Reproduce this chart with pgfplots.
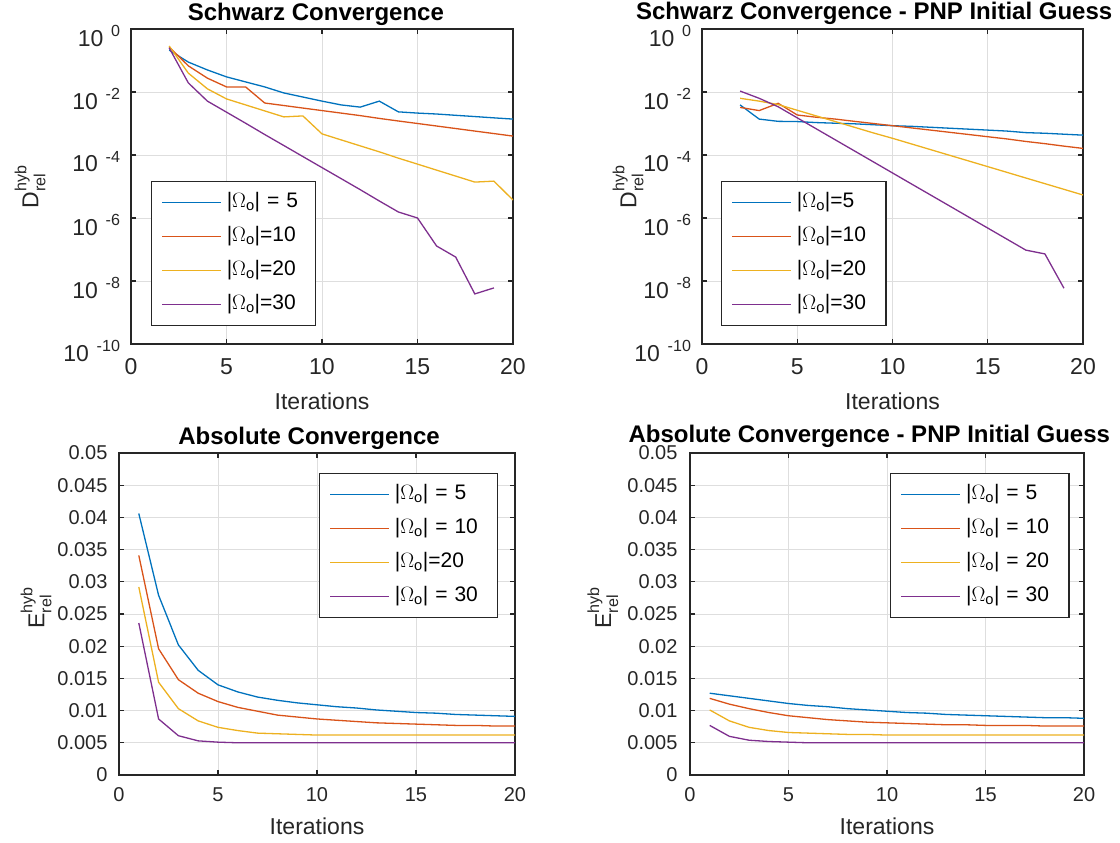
\documentclass[border=0pt]{standalone}
\usepackage{amsmath}
\usepackage{fontspec}
\setmainfont{Liberation Sans}
\usepackage{pgfplots}
\pgfplotsset{compat=1.18}
\definecolor{c1}{rgb}{0,0.447,0.741}
\definecolor{c2}{rgb}{0.85,0.325,0.098}
\definecolor{c3}{rgb}{0.929,0.694,0.125}
\definecolor{c4}{rgb}{0.494,0.184,0.556}
\definecolor{axc}{rgb}{0.15,0.15,0.15}
\newcommand{\fs}[1]{\fontsize{#1}{#1}\selectfont}
\newcommand{\Om}{$\Omega_{\text{o}}$}
\newcommand{\tp}[1]{10\,\,\textsuperscript{#1}}
\pgfplotsset{
  every axis title shift=0pt,
  every axis/.append style={
    scale only axis,
    xmin=0, xmax=20, xtick={0,5,10,15,20}, xticklabels={0,5,10,15,20},
    grid=major, major grid style={black!13, line width=0.9pt},
    axis line style={axc, line width=1.2pt},
    tick style={axc, line width=1.2pt},
    tick align=inside, major tick length=5pt,
    ticklabel style={font=\fs{20}, text=axc},
    label style={font=\fs{23}, text=axc},
    title style={font=\bfseries\fs{24}, anchor=base, at={(axis description cs:0.5,1)}, yshift=8pt},
    xlabel={Iterations},
    legend cell align=left,
    legend style={anchor=north west, draw=axc, line width=1.2pt, fill=white,
      font=\fs{21}, inner xsep=10pt, inner ysep=8pt,
      nodes={inner xsep=5pt, inner ysep=3pt, text height=15pt, text depth=5pt},
      row sep=8pt},
  },
  every axis plot/.append style={line width=1.3pt},
  legend image code/.code={\draw[#1, line width=1.3pt] (0pt,0pt) -- (59pt,0pt);},
}
\begin{document}
\begin{tikzpicture}
\useasboundingbox (0pt,0pt) rectangle (1120pt,843pt);
% ---------- top left ----------
\begin{axis}[at={(131pt,499pt)}, anchor=south west, width=382pt, height=315pt,
  ymode=log, ymin=1e-10, ymax=1,
  ytick={1e-10,1e-8,1e-6,1e-4,1e-2,1},
  yticklabels={\tp{-10},\tp{-8},\tp{-6},\tp{-4},\tp{-2},\tp{0}},
  yminorticks=false,
  ticklabel style={font=\fs{23}},
  xticklabel style={yshift=-11pt},
  yticklabel style={xshift=-7pt, yshift=-7pt},
  xlabel style={at={(axis description cs:0.5,-0.181)}, anchor=center},
  ylabel={D$^{\text{hyb}}_{\text{rel}}$},
  title={Schwarz Convergence},
  title style={at={(axis description cs:0.484,1)}},
  ylabel style={at={(axis description cs:-0.264,0.5)}, anchor=center},
  legend style={at={(axis description cs:0.052,0.517)}, nodes={text width=74pt}}]
\addplot[c1] coordinates {(2,0.214)(3,0.0891)(4,0.0501)(5,0.0302)(6,0.0209)(7,0.0145)(8,0.00933)(9,0.00692)(10,0.00513)(11,0.00389)(12,0.00331)(13,0.00513)(14,0.00234)(15,0.00214)(16,0.00200)(17,0.00182)(18,0.00166)(19,0.00151)(20,0.00138)};
\addplot[c2] coordinates {(2,0.269)(3,0.0676)(4,0.0275)(5,0.0145)(6,0.0145)(7,0.00447)(8,0.00372)(9,0.00309)(10,0.00257)(11,0.00214)(12,0.00178)(13,0.00145)(14,0.00120)(15,0.00100)(16,0.000832)(17,0.000692)(18,0.000575)(19,0.000479)(20,0.000398)};
\addplot[c3] coordinates {(2,0.288)(3,0.0398)(4,0.0126)(5,0.00603)(6,0.00389)(7,0.00251)(8,0.00162)(9,0.00174)(10,0.000468)(11,0.000302)(12,0.000195)(13,0.000126)(14,7.94e-5)(15,5.13e-5)(16,3.31e-5)(17,2.14e-5)(18,1.38e-5)(19,1.48e-5)(20,3.72e-6)};
\addplot[c4] coordinates {(2,0.251)(3,0.0195)(4,0.00513)(5,0.00229)(6,0.00102)(7,0.000447)(8,0.000200)(9,8.91e-5)(10,3.98e-5)(11,1.78e-5)(12,7.94e-6)(13,3.47e-6)(14,1.55e-6)(15,1.00e-6)(16,1.29e-7)(17,5.75e-8)(18,3.89e-9)(19,6.03e-9)};
\legend{|\Om| = 5, |\Om|=10, |\Om|=20, |\Om|=30}
\end{axis}
% ---------- top right ----------
\begin{axis}[at={(702pt,499pt)}, anchor=south west, width=381pt, height=315pt,
  ymode=log, ymin=1e-10, ymax=1,
  ytick={1e-10,1e-8,1e-6,1e-4,1e-2,1},
  yticklabels={\tp{-10},\tp{-8},\tp{-6},\tp{-4},\tp{-2},\tp{0}},
  yminorticks=false,
  ticklabel style={font=\fs{23}},
  xticklabel style={yshift=-11pt},
  yticklabel style={xshift=-7pt, yshift=-7pt},
  xlabel style={at={(axis description cs:0.5,-0.181)}, anchor=center},
  ylabel={D$^{\text{hyb}}_{\text{rel}}$},
  title={Schwarz Convergence - PNP Initial Guess},
  title style={at={(axis description cs:0.452,1)}, yshift=1pt},
  ylabel style={at={(axis description cs:-0.194,0.5)}, anchor=center},
  legend style={at={(axis description cs:0.050,0.517)}, nodes={text width=74pt}}]
\addplot[c1] coordinates {(2,0.00389)(3,0.00138)(4,0.00117)(5,0.00115)(6,0.00107)(7,0.00102)(8,0.000977)(9,0.000912)(10,0.000851)(11,0.000813)(12,0.000759)(13,0.000708)(14,0.000661)(15,0.000617)(16,0.000575)(17,0.000513)(18,0.000490)(19,0.000457)(20,0.000427)};
\addplot[c2] coordinates {(2,0.00324)(3,0.00257)(4,0.00437)(5,0.00186)(6,0.00158)(7,0.00138)(8,0.00117)(9,0.00100)(10,0.000851)(11,0.000724)(12,0.000617)(13,0.000525)(14,0.000447)(15,0.000380)(16,0.000324)(17,0.000269)(18,0.000229)(19,0.000191)(20,0.000162)};
\addplot[c3] coordinates {(2,0.00631)(3,0.00513)(4,0.00398)(5,0.00263)(6,0.00174)(7,0.00115)(8,0.000759)(9,0.000501)(10,0.000339)(11,0.000224)(12,0.000148)(13,9.77e-5)(14,6.46e-5)(15,4.27e-5)(16,2.82e-5)(17,1.86e-5)(18,1.23e-5)(19,8.13e-6)(20,5.37e-6)};
\addplot[c4] coordinates {(2,0.0107)(3,0.00631)(4,0.00339)(5,0.00151)(6,0.000676)(7,0.000302)(8,0.000135)(9,6.03e-5)(10,2.69e-5)(11,1.20e-5)(12,5.37e-6)(13,2.40e-6)(14,1.07e-6)(15,4.79e-7)(16,2.14e-7)(17,9.55e-8)(18,7.24e-8)(19,5.89e-9)};
\legend{|\Om|=5, |\Om|=10, |\Om|=20, |\Om|=30}
\end{axis}
% ---------- bottom left ----------
\begin{axis}[at={(119pt,68pt)}, anchor=south west, width=396pt, height=322pt,
  ymin=0, ymax=0.05,
  ytick={0,0.005,0.01,0.015,0.02,0.025,0.03,0.035,0.04,0.045,0.05},
  yticklabels={0,0.005,0.01,0.015,0.02,0.025,0.03,0.035,0.04,0.045,0.05},
  scaled y ticks=false,
  xticklabel style={yshift=-9pt},
  yticklabel style={xshift=-8pt},
  xlabel style={at={(axis description cs:0.5,-0.158)}, anchor=center},
  ylabel={E$^{\text{hyb}}_{\text{rel}}$},
  title={Absolute Convergence},
  title style={at={(axis description cs:0.48,1)}},
  ylabel style={at={(axis description cs:-0.209,0.52)}, anchor=center},
  legend style={at={(axis description cs:0.505,0.938)}, nodes={text width=88pt}}]
\addplot[c1] coordinates {(1,0.0406)(2,0.0279)(3,0.0202)(4,0.01625)(5,0.0140)(6,0.0129)(7,0.0121)(8,0.0116)(9,0.0112)(10,0.0109)(11,0.0106)(12,0.0104)(13,0.0101)(14,0.0099)(15,0.0097)(16,0.0096)(17,0.0094)(18,0.0093)(19,0.0092)(20,0.0091)};
\addplot[c2] coordinates {(1,0.0341)(2,0.0196)(3,0.0148)(4,0.0127)(5,0.0114)(6,0.0105)(7,0.0099)(8,0.0093)(9,0.0090)(10,0.0087)(11,0.0085)(12,0.0083)(13,0.0081)(14,0.0080)(15,0.0079)(16,0.0078)(17,0.0077)(18,0.0077)(19,0.0076)(20,0.0076)};
\addplot[c3] coordinates {(1,0.0292)(2,0.0144)(3,0.0103)(4,0.0084)(5,0.0074)(6,0.0069)(7,0.0065)(8,0.0064)(9,0.0063)(10,0.0062)(11,0.0062)(12,0.0062)(13,0.0062)(14,0.0062)(15,0.0062)(16,0.0062)(17,0.0062)(18,0.0062)(19,0.0062)(20,0.0062)};
\addplot[c4] coordinates {(1,0.0236)(2,0.0087)(3,0.0061)(4,0.0053)(5,0.0051)(6,0.0050)(7,0.0050)(8,0.0050)(9,0.0050)(10,0.0050)(11,0.0050)(12,0.0050)(13,0.0050)(14,0.0050)(15,0.0050)(16,0.0050)(17,0.0050)(18,0.0050)(19,0.0050)(20,0.0050)};
\legend{|\Om| = 5, |\Om| = 10, |\Om|=20, |\Om| = 30}
\end{axis}
% ---------- bottom right ----------
\begin{axis}[at={(690pt,68pt)}, anchor=south west, width=394pt, height=322pt,
  ymin=0, ymax=0.05,
  ytick={0,0.005,0.01,0.015,0.02,0.025,0.03,0.035,0.04,0.045,0.05},
  yticklabels={0,0.005,0.01,0.015,0.02,0.025,0.03,0.035,0.04,0.045,0.05},
  scaled y ticks=false,
  xticklabel style={yshift=-9pt},
  yticklabel style={xshift=-9pt},
  xlabel style={at={(axis description cs:0.5,-0.158)}, anchor=center},
  ylabel={E$^{\text{hyb}}_{\text{rel}}$},
  title={Absolute Convergence - PNP Initial Guess},
  title style={at={(axis description cs:0.455,1)}, yshift=2pt},
  ylabel style={at={(axis description cs:-0.221,0.52)}, anchor=center},
  legend style={at={(axis description cs:0.508,0.938)}, nodes={text width=88pt}}]
\addplot[c1] coordinates {(1,0.0127)(2,0.0123)(3,0.0119)(4,0.0115)(5,0.0111)(6,0.0108)(7,0.0106)(8,0.0103)(9,0.0101)(10,0.0099)(11,0.0097)(12,0.0096)(13,0.0094)(14,0.0093)(15,0.0092)(16,0.0091)(17,0.0090)(18,0.0089)(19,0.0089)(20,0.0088)};
\addplot[c2] coordinates {(1,0.0119)(2,0.0110)(3,0.0103)(4,0.0097)(5,0.0092)(6,0.0089)(7,0.0086)(8,0.0084)(9,0.0082)(10,0.0081)(11,0.0080)(12,0.0079)(13,0.0078)(14,0.0078)(15,0.0077)(16,0.0077)(17,0.0077)(18,0.0076)(19,0.0076)(20,0.0076)};
\addplot[c3] coordinates {(1,0.0101)(2,0.0084)(3,0.0074)(4,0.0069)(5,0.0066)(6,0.0065)(7,0.0064)(8,0.0063)(9,0.0063)(10,0.0062)(11,0.0062)(12,0.0062)(13,0.0062)(14,0.0062)(15,0.0062)(16,0.0062)(17,0.0062)(18,0.0062)(19,0.0062)(20,0.0062)};
\addplot[c4] coordinates {(1,0.0077)(2,0.0060)(3,0.0054)(4,0.0052)(5,0.0051)(6,0.0050)(7,0.0050)(8,0.0050)(9,0.0050)(10,0.0050)(11,0.0050)(12,0.0050)(13,0.0050)(14,0.0050)(15,0.0050)(16,0.0050)(17,0.0050)(18,0.0050)(19,0.0050)(20,0.0050)};
\legend{|\Om| = 5, |\Om| = 10, |\Om| = 20, |\Om| = 30}
\end{axis}
\end{tikzpicture}
\end{document}
